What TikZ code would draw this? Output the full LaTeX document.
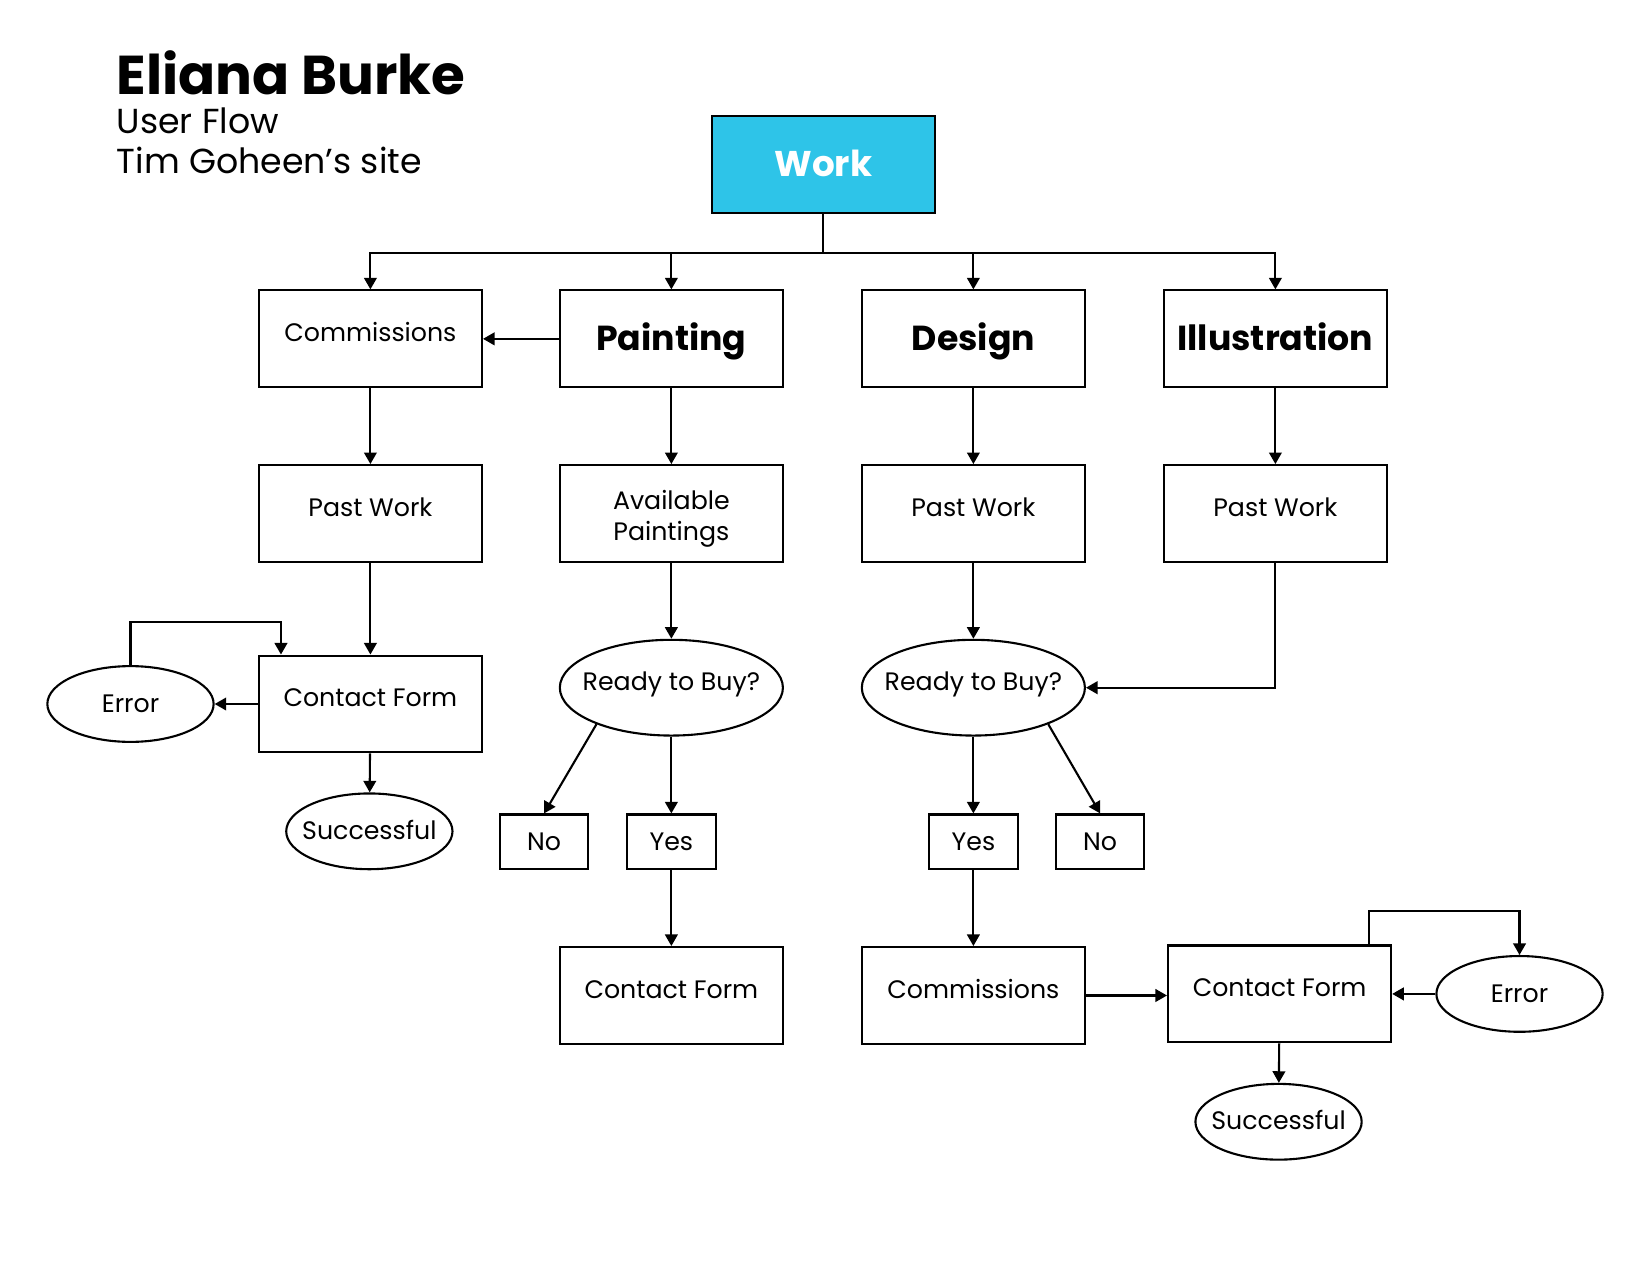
\documentclass[tikz,border=0pt]{standalone}
\usepackage{fontspec}
\setmainfont{Poppins}
\usetikzlibrary{arrows.meta,shapes.geometric}
\definecolor{workcyan}{RGB}{46,196,232}
\newcommand{\zw}[1]{\makebox[0pt][c]{#1}}
\begin{document}
\begin{tikzpicture}[x=0.5pt,y=-0.5pt,
  line width=1pt,
  arr/.style={-{Triangle[length=5.5pt,width=6pt]}},
  box/.style={draw,rectangle,minimum width=106pt,minimum height=46pt,inner sep=0pt},
  sbox/.style={draw,rectangle,minimum width=42pt,minimum height=26pt,inner sep=0pt},
  oval/.style={draw,ellipse,minimum width=79pt,minimum height=36pt,inner sep=0pt},
  bigoval/.style={draw,ellipse,minimum width=106pt,minimum height=45.5pt,inner sep=0pt},
  reg/.style={font=\fontsize{12}{14.5}\selectfont},
  hi/.style={reg,text height=8.5pt,text depth=5.8pt},
  mid/.style={reg,text height=8.5pt,text depth=0.8pt},
  lo/.style={reg,text height=8.5pt,text depth=-2pt},
  two/.style={reg,text height=8.5pt,text depth=11.9pt},
  bold/.style={font=\fontsize{16.5}{19}\selectfont\bfseries,text height=11.5pt,text depth=0pt},
]
\useasboundingbox (0,0) rectangle (1568,1212);

% title
\node[anchor=base west,inner sep=0pt,font=\fontsize{26}{30}\selectfont\bfseries] (t1) at (110,90) {Eliana Burke};
\node[anchor=base west,inner sep=0pt,font=\fontsize{16.5}{19}\selectfont] (t2) at (110,127) {User Flow};
\node[anchor=base west,inner sep=0pt,font=\fontsize{16.5}{19}\selectfont] (t3) at (110,165) {Tim Goheen’s site};

% top
\node[box,fill=workcyan,text=white,bold,font=\fontsize{17}{20}\selectfont\bfseries] (work) at (782.5,156) {Work};

% row 1
\node[box,hi] (comm1) at (352,322) {Commissions};
\node[box,bold] (paint) at (638,322) {Painting};
\node[box,bold] (design) at (925,322) {Design};
\node[box,bold] (illu) at (1212,322) {Illustration};

% row 2
\node[box,hi] (past1) at (352,488) {Past Work};
\node[box,two] (avail) at (638,488) {\begin{tabular}[t]{@{}c@{}}Available\\Paintings\end{tabular}};
\node[box,hi] (past2) at (925,488) {Past Work};
\node[box,hi] (past3) at (1212,488) {Past Work};

% left branch
\node[box,hi] (cf1) at (352,669) {Contact Form};
\node[oval,mid] (err1) at (124,669) {\zw{Error}};
\node[oval,mid] (succ1) at (351,790) {\zw{Successful}};

% painting branch
\node[bigoval,hi] (rtb1) at (638,653.5) {\zw{Ready to Buy?}};
\node[sbox,lo] (no1) at (517,800) {No};
\node[sbox,lo] (yes1) at (638,800) {Yes};
\node[box,hi] (cf2) at (638,946) {Contact Form};

% design branch
\node[bigoval,hi] (rtb2) at (925,653.5) {\zw{Ready to Buy?}};
\node[sbox,lo] (yes2) at (925,800) {Yes};
\node[sbox,lo] (no2) at (1045.5,800) {No};
\node[box,hi] (comm2) at (925,946) {Commissions};
\node[box,hi] (cf3) at (1216,944.5) {Contact Form};
\node[oval,mid] (err2) at (1444,944.5) {\zw{Error}};
\node[oval,mid] (succ2) at (1215,1066) {\zw{Successful}};

% connectors
\coordinate (bus) at (782.5,240);
\draw (work) -- (bus);
\draw[arr] (bus) -| (comm1.north);
\draw[arr] (bus) -| (paint.north);
\draw[arr] (bus) -| (design.north);
\draw[arr] (bus) -| (illu.north);

\draw[arr] (paint.west) -- (comm1.east);
\draw[arr] (comm1) -- (past1);
\draw[arr] (paint) -- (avail);
\draw[arr] (design) -- (past2);
\draw[arr] (illu) -- (past3);

\draw[arr] (past1) -- (cf1);
\draw[arr] (cf1.west) -- (err1.east);
\coordinate (l1) at (267,591);
\draw[arr] (err1.north) |- (l1) -- (l1 |- cf1.north);
\draw[arr] (cf1) -- (succ1);

\draw[arr] (avail) -- (rtb1);
\draw[arr] (rtb1.206) -- (no1.north);
\draw[arr] (rtb1) -- (yes1);
\draw[arr] (yes1) -- (cf2);

\draw[arr] (past2) -- (rtb2);
\draw[arr] (past3.south) |- (rtb2.east);
\draw[arr] (rtb2) -- (yes2);
\draw[arr] (rtb2.-26) -- (no2.north);
\draw[arr] (yes2) -- (comm2);
\draw[arr] (comm2.east) -- (comm2.east -| cf3.west);
\draw[arr] (err2.west) -- (cf3.east);
\coordinate (l2) at (1301,866);
\draw[arr] (l2 |- cf3.north) -- (l2) -| (err2.north);
\draw[arr] (cf3) -- (succ2);
\end{tikzpicture}
\end{document}
